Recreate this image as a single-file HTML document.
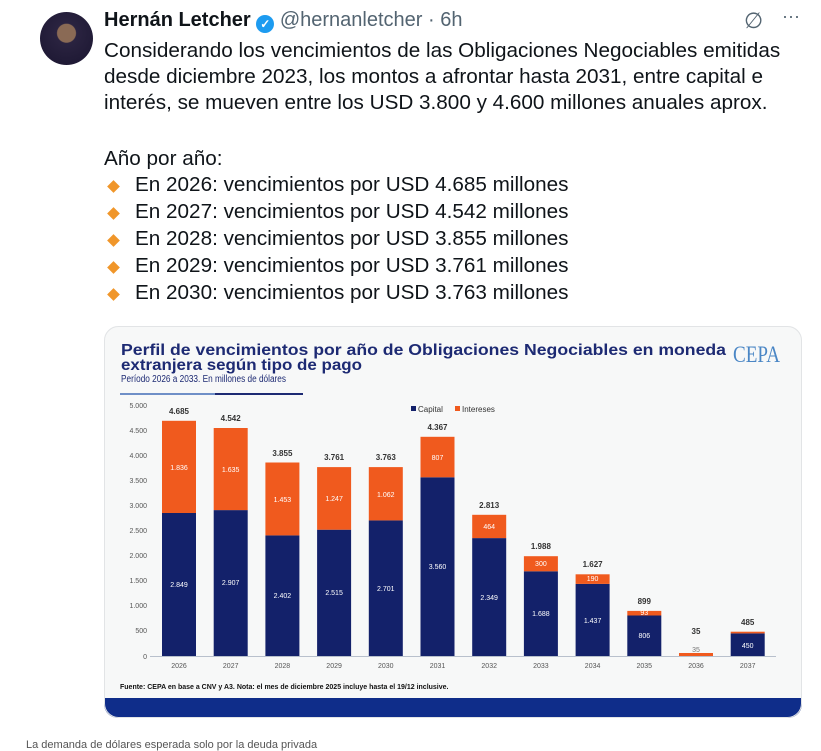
<!DOCTYPE html>
<html><head><meta charset="utf-8"><style>
body{margin:0;width:821px;height:751px;background:#fff;position:relative;overflow:hidden;font-family:"Liberation Sans",sans-serif;color:#0f1419}
.a{position:absolute;white-space:nowrap}
.t{font-size:20.7px;left:104px;line-height:26px}
.li{left:135px;font-size:20.7px}
.d{position:absolute;left:109px;width:9px;height:9px;background:#f0962a;transform:rotate(45deg)}
</style></head><body>
<div class="a" style="left:40px;top:12px;width:53px;height:53px;border-radius:50%;background:radial-gradient(circle at 50% 40%,#8a6a55 0 22%,#2a2340 24%,#1a1530 100%)"></div>
<div class="a" style="left:104px;top:9px;font-size:20px;font-weight:bold">Hernán Letcher <span style="display:inline-block;width:18px;height:18px;border-radius:50%;background:#1d9bf0;color:#fff;font-size:12px;text-align:center;line-height:18px;vertical-align:-2px">✓</span> <span style="font-weight:normal;color:#536471">@hernanletcher · 6h</span></div>
<div class="a" style="left:744px;top:8px;font-size:22px;color:#536471">∅</div>
<div class="a" style="left:782px;top:6px;font-size:18px;color:#536471">···</div>
<div class="a t" style="top:38px">Considerando los vencimientos de las Obligaciones Negociables emitidas</div>
<div class="a t" style="top:64px">desde diciembre 2023, los montos a afrontar hasta 2031, entre capital e</div>
<div class="a t" style="top:90px">interés, se mueven entre los USD 3.800 y 4.600 millones anuales aprox.</div>
<div class="a t" style="top:146px">Año por año:</div>
<div class="d" style="top:182px"></div><div class="a li" style="top:173px">En 2026: vencimientos por USD 4.685 millones</div>
<div class="d" style="top:209px"></div><div class="a li" style="top:200px">En 2027: vencimientos por USD 4.542 millones</div>
<div class="d" style="top:236px"></div><div class="a li" style="top:227px">En 2028: vencimientos por USD 3.855 millones</div>
<div class="d" style="top:263px"></div><div class="a li" style="top:254px">En 2029: vencimientos por USD 3.761 millones</div>
<div class="d" style="top:290px"></div><div class="a li" style="top:281px">En 2030: vencimientos por USD 3.763 millones</div>
<div class="a" style="left:26px;top:739px;font-size:11px;color:#555">La demanda de dólares esperada solo por la deuda privada</div>

<svg class="a" style="left:0;top:0" width="821" height="751" font-family="'Liberation Sans Narrow','Liberation Sans',sans-serif">
<defs><clipPath id="c"><rect x="104" y="326" width="698" height="392" rx="14"/></clipPath></defs>
<g clip-path="url(#c)">
<rect x="104" y="326" width="698" height="392" fill="#f7f8f8"/>
<rect x="104" y="698" width="698" height="20" fill="#0f2d8a"/>
</g>
<rect x="104.5" y="326.5" width="697" height="391" rx="14" fill="none" stroke="#e2e4e6"/>
<text x="121" y="355" font-size="16" font-weight="bold" fill="#1d2a73" textLength="605" lengthAdjust="spacingAndGlyphs">Perfil de vencimientos por año de Obligaciones Negociables en moneda</text>
<text x="121" y="370" font-size="16" font-weight="bold" fill="#1d2a73" textLength="241" lengthAdjust="spacingAndGlyphs">extranjera según tipo de pago</text>
<text x="121" y="382" font-size="10" fill="#1d2a73" textLength="165" lengthAdjust="spacingAndGlyphs">Período 2026 a 2033. En millones de dólares</text>
<rect x="120" y="393" width="95" height="2" fill="#6f8fc7"/><rect x="215" y="393" width="88" height="2" fill="#1d2a73"/>
<text x="733" y="362" font-size="23" fill="#4a86c5" font-family="'Liberation Serif',serif" textLength="47" lengthAdjust="spacingAndGlyphs">CEPA</text>
<g font-size="7" fill="#555" text-anchor="end">
<text x="147" y="408">5.000</text><text x="147" y="433">4.500</text><text x="147" y="458">4.000</text><text x="147" y="483">3.500</text><text x="147" y="508">3.000</text><text x="147" y="533">2.500</text><text x="147" y="558">2.000</text><text x="147" y="583">1.500</text><text x="147" y="608">1.000</text><text x="147" y="633">500</text><text x="147" y="659">0</text>
</g>
<rect x="411" y="406" width="5" height="5" fill="#13216a"/><text x="418" y="412" font-size="8" fill="#333">Capital</text>
<rect x="455" y="406" width="5" height="5" fill="#f05a1e"/><text x="462" y="412" font-size="8" fill="#333">Intereses</text>
<g fill="#13216a">
<rect x="162" y="513" width="34" height="143"/><rect x="213.7" y="510.1" width="34" height="145.9"/><rect x="265.4" y="535.4" width="34" height="120.6"/><rect x="317.1" y="529.7" width="34" height="126.3"/><rect x="368.8" y="520.4" width="34" height="135.6"/><rect x="420.5" y="477.3" width="34" height="178.7"/><rect x="472.2" y="538.1" width="34" height="117.9"/><rect x="523.9" y="571.3" width="34" height="84.7"/><rect x="575.6" y="583.9" width="34" height="72.1"/><rect x="627.3" y="615.5" width="34" height="40.5"/><rect x="730.7" y="633.4" width="34" height="22.6"/>
</g>
<g fill="#f05a1e">
<rect x="162" y="420.8" width="34" height="92.2"/><rect x="213.7" y="428" width="34" height="82.1"/><rect x="265.4" y="462.5" width="34" height="72.9"/><rect x="317.1" y="467.1" width="34" height="62.6"/><rect x="368.8" y="467.1" width="34" height="53.3"/><rect x="420.5" y="436.8" width="34" height="40.5"/><rect x="472.2" y="514.8" width="34" height="23.3"/><rect x="523.9" y="556.2" width="34" height="15.1"/><rect x="575.6" y="574.3" width="34" height="9.6"/><rect x="627.3" y="610.9" width="34" height="4.6"/><rect x="679" y="653" width="34" height="3"/><rect x="730.7" y="631.7" width="34" height="1.7"/>
</g>
<line x1="150" y1="656.5" x2="776" y2="656.5" stroke="#b8c0cc"/>
<g font-size="8" font-weight="bold" fill="#333" text-anchor="middle">
<text x="179" y="414">4.685</text><text x="230.7" y="421">4.542</text><text x="282.4" y="456">3.855</text><text x="334.1" y="460">3.761</text><text x="385.8" y="460">3.763</text><text x="437.5" y="430">4.367</text><text x="489.2" y="508">2.813</text><text x="540.9" y="549">1.988</text><text x="592.6" y="567">1.627</text><text x="644.3" y="604">899</text><text x="696" y="634">35</text><text x="747.7" y="625">485</text>
</g>
<g font-size="7" fill="#fff" text-anchor="middle">
<text x="179" y="587">2.849</text><text x="230.7" y="585">2.907</text><text x="282.4" y="598">2.402</text><text x="334.1" y="595">2.515</text><text x="385.8" y="591">2.701</text><text x="437.5" y="569">3.560</text><text x="489.2" y="600">2.349</text><text x="540.9" y="616">1.688</text><text x="592.6" y="623">1.437</text><text x="644.3" y="638">806</text><text x="747.7" y="648">450</text>
<text x="179" y="470">1.836</text><text x="230.7" y="472">1.635</text><text x="282.4" y="502">1.453</text><text x="334.1" y="501">1.247</text><text x="385.8" y="497">1.062</text><text x="437.5" y="460">807</text><text x="489.2" y="529">464</text><text x="540.9" y="566">300</text><text x="592.6" y="581">190</text><text x="644.3" y="615">93</text>
</g>
<text x="696" y="652" font-size="7" fill="#777" text-anchor="middle">35</text>
<g font-size="7" fill="#555" text-anchor="middle">
<text x="179" y="668">2026</text><text x="230.7" y="668">2027</text><text x="282.4" y="668">2028</text><text x="334.1" y="668">2029</text><text x="385.8" y="668">2030</text><text x="437.5" y="668">2031</text><text x="489.2" y="668">2032</text><text x="540.9" y="668">2033</text><text x="592.6" y="668">2034</text><text x="644.3" y="668">2035</text><text x="696" y="668">2036</text><text x="747.7" y="668">2037</text>
</g>
<text x="120" y="689" font-size="7" font-weight="bold" fill="#111">Fuente: CEPA en base a CNV y A3. Nota: el mes de diciembre 2025 incluye hasta el  19/12 inclusive.</text>
</svg>
</body></html>
